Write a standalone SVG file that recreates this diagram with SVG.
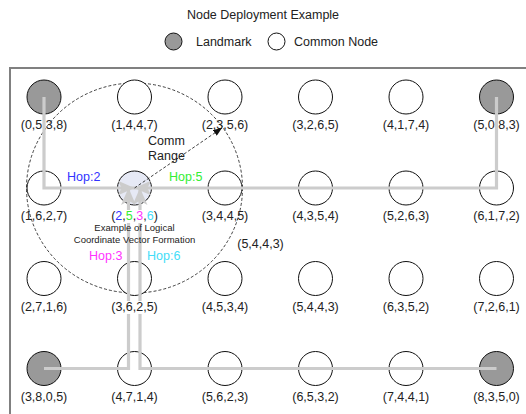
<svg xmlns="http://www.w3.org/2000/svg" width="526" height="414" viewBox="0 0 526 414">
<style>
text{font-family:"Liberation Sans",Arial,sans-serif;font-size:12.5px;fill:#222;}
.lbl{text-anchor:middle;}
.small{font-size:9.5px;text-anchor:middle;}
.common{fill:#fff;stroke:#111;stroke-width:1;}
.land{fill:#999;stroke:#111;stroke-width:1;}
.path{fill:none;stroke:#cccccc;stroke-width:3.2;marker-end:url(#ga);}
.bg{fill:#fff;}
.b{fill:#3333ff;}.g{fill:#33ee33;}.m{fill:#ff33ff;}.c{fill:#44ddf8;}
</style>
<defs>
<marker id="ga" viewBox="0 0 16 14" refX="16" refY="7" markerWidth="17" markerHeight="15" markerUnits="userSpaceOnUse" orient="auto">
<path d="M0,0 L16,7 L0,14 L4,7 z" fill="#cccccc"/>
</marker>
<marker id="ba" viewBox="0 0 10 8" refX="10" refY="4" markerWidth="9" markerHeight="7" markerUnits="userSpaceOnUse" orient="auto">
<path d="M0,0 L10,4 L0,8 z" fill="#111"/>
</marker>
</defs>

<text x="263" y="19" class="lbl">Node Deployment Example</text>
<g id="legend">
<circle cx="173.5" cy="41.5" r="8.5" class="land"/>
<text x="196" y="46">Landmark</text>
<circle cx="276.5" cy="41.5" r="8.5" class="common"/>
<text x="294" y="46">Common Node</text>
</g>

<rect x="10" y="68" width="540" height="360" fill="none" stroke="#808080" stroke-width="2"/>

<ellipse id="comm-range" cx="134.5" cy="188" rx="108" ry="105" fill="none" stroke="#111" stroke-width="0.8" stroke-dasharray="3,2"/>

<g id="n0538"><circle cx="44" cy="97" r="17" class="land"/><text x="44" y="129" class="lbl">(0,5,3,8)</text></g>
<g id="n1447"><circle cx="134.5" cy="97" r="17" class="common"/><text x="134.5" y="129" class="lbl">(1,4,4,7)</text></g>
<g id="n2356"><circle cx="225" cy="97" r="17" class="common"/><text x="225" y="129" class="lbl">(2,3,5,6)</text></g>
<g id="n3265"><circle cx="315.5" cy="97" r="17" class="common"/><text x="315.5" y="129" class="lbl">(3,2,6,5)</text></g>
<g id="n4174"><circle cx="406" cy="97" r="17" class="common"/><text x="406" y="129" class="lbl">(4,1,7,4)</text></g>
<g id="n5083"><circle cx="496.5" cy="97" r="17" class="land"/><text x="496.5" y="129" class="lbl">(5,0,8,3)</text></g>

<g id="n1627"><circle cx="44" cy="188" r="17" class="common"/><text x="44" y="220" class="lbl">(1,6,2,7)</text></g>
<g id="n2536-shape"><circle cx="134.5" cy="188" r="17" fill="#e6e9f5" stroke="#111" stroke-width="1"/></g>
<g id="n3445"><circle cx="225" cy="188" r="17" class="common"/><text x="225" y="220" class="lbl">(3,4,4,5)</text></g>
<g id="n4354"><circle cx="315.5" cy="188" r="17" class="common"/><text x="315.5" y="220" class="lbl">(4,3,5,4)</text></g>
<g id="n5263"><circle cx="406" cy="188" r="17" class="common"/><text x="406" y="220" class="lbl">(5,2,6,3)</text></g>
<g id="n6172"><circle cx="496.5" cy="188" r="17" class="common"/><text x="496.5" y="220" class="lbl">(6,1,7,2)</text></g>

<g id="n2716"><circle cx="44" cy="278.5" r="17" class="common"/><text x="44" y="311" class="lbl">(2,7,1,6)</text></g>
<g id="n3625-shape"><circle cx="134.5" cy="278.5" r="17" class="common"/></g>
<g id="n4534"><circle cx="225" cy="278.5" r="17" class="common"/><text x="225" y="311" class="lbl">(4,5,3,4)</text></g>
<g id="n5443"><circle cx="315.5" cy="278.5" r="17" class="common"/><text x="315.5" y="311" class="lbl">(5,4,4,3)</text></g>
<g id="n6352"><circle cx="406" cy="278.5" r="17" class="common"/><text x="406" y="311" class="lbl">(6,3,5,2)</text></g>
<g id="n7261"><circle cx="496.5" cy="278.5" r="17" class="common"/><text x="496.5" y="311" class="lbl">(7,2,6,1)</text></g>

<g id="n3805"><circle cx="44" cy="368.5" r="17" class="land"/><text x="44" y="401" class="lbl">(3,8,0,5)</text></g>
<g id="n4714"><circle cx="134.5" cy="368.5" r="17" class="common"/><text x="134.5" y="401" class="lbl">(4,7,1,4)</text></g>
<g id="n5623"><circle cx="225" cy="368.5" r="17" class="common"/><text x="225" y="401" class="lbl">(5,6,2,3)</text></g>
<g id="n6532"><circle cx="315.5" cy="368.5" r="17" class="common"/><text x="315.5" y="401" class="lbl">(6,5,3,2)</text></g>
<g id="n7441"><circle cx="406" cy="368.5" r="17" class="common"/><text x="406" y="401" class="lbl">(7,4,4,1)</text></g>
<g id="n8350"><circle cx="496.5" cy="368.5" r="17" class="land"/><text x="496.5" y="401" class="lbl">(8,3,5,0)</text></g>

<text x="260.5" y="247.5" class="lbl">(5,4,4,3)</text>

<g id="connectors">
<path class="path" d="M44,97 V188 H134.5"/>
<path class="path" d="M496.5,97 V188 H134.5"/>
<path class="path" d="M44,368.5 H128.5 V188"/>
<path class="path" d="M496.5,368.5 H140 V188"/>
<line x1="134.5" y1="188" x2="222" y2="128" stroke="#111" stroke-width="0.8" stroke-dasharray="3,2" marker-end="url(#ba)"/>
</g>

<g id="n2536-label">
<rect x="111" y="210" width="47" height="13" class="bg"/>
<text x="134.5" y="220" class="lbl">(<tspan class="b">2</tspan>,<tspan class="g">5</tspan>,<tspan class="m">3</tspan>,<tspan class="c">6</tspan>)</text>
</g>
<g id="n3625-label">
<rect x="111" y="301" width="47" height="13" class="bg"/>
<text x="134.5" y="311" class="lbl">(3,6,2,5)</text>
</g>

<text x="148" y="145">Comm</text>
<text x="148" y="160">Range</text>
<text x="67" y="181" class="b">Hop:2</text>
<text x="169" y="181" class="g">Hop:5</text>
<text x="89" y="260" class="m">Hop:3</text>
<text x="147" y="260" class="c">Hop:6</text>
<text x="134.5" y="231" class="small">Example of Logical</text>
<text x="134.5" y="243" class="small">Coordinate Vector Formation</text>
</svg>
